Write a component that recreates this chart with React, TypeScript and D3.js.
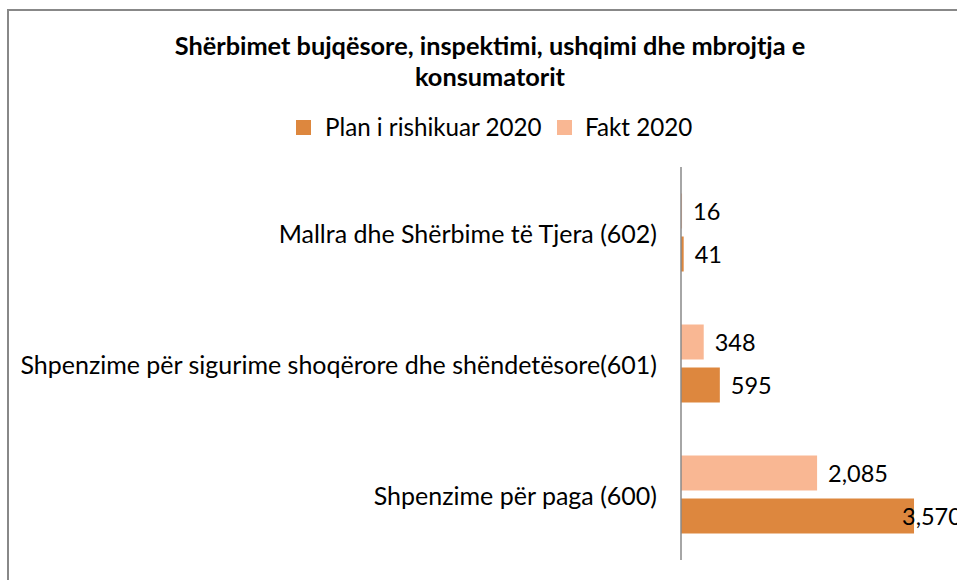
import React from "react";
import * as d3 from "d3";

const categories = [
  "Mallra dhe Shërbime të Tjera (602)",
  "Shpenzime për sigurime shoqërore dhe shëndetësore(601)",
  "Shpenzime për paga (600)",
];
const seriesNames = ["Fakt 2020", "Plan i rishikuar 2020"];
const faktValues = [16, 348, 2085];
const planValues = [41, 595, 3570];
const legendOrder = ["Plan i rishikuar 2020", "Fakt 2020"];
const colors: Record<string, string> = {
  "Plan i rishikuar 2020": "#DD873E",
  "Fakt 2020": "#F9B793",
};
const titleLines = [
  "Shërbimet bujqësore, inspektimi, ushqimi dhe mbrojtja e",
  "konsumatorit",
];

const W = 957;
const H = 580;
const FONT = "Lato, 'Open Sans', sans-serif";

export default function App() {
  const x = d3.scaleLinear().domain([0, 4000]).range([681, 681 + 4000 * 0.06527]);
  const y = d3.scaleBand<string>().domain(categories).range([167, 560]).padding(0);
  const inner = d3
    .scaleBand<string>()
    .domain(seriesNames)
    .range([0, 78])
    .paddingInner(0.186);
  const fmt = d3.format(",");
  const valuesBySeries: Record<string, number[]> = {
    "Fakt 2020": faktValues,
    "Plan i rishikuar 2020": planValues,
  };

  const legendItems = [
    { name: legendOrder[0], sx: 296, tx: 325 },
    { name: legendOrder[1], sx: 557, tx: 585 },
  ];

  return (
    <svg
      width={W}
      height={H}
      style={{ position: "absolute", left: 0, top: 0, background: "#fff" }}
      fontFamily={FONT}
    >
      <rect x={8} y={10} width={W + 20} height={H + 20} fill="#fff" stroke="#888" strokeWidth={2} />
      {titleLines.map((t, i) => (
        <text
          key={i}
          x={490}
          y={55 + i * 31}
          textAnchor="middle"
          fontWeight="bold"
          fontSize={25.3}
          fill="#000"
        >
          {t}
        </text>
      ))}
      {legendItems.map((l) => (
        <g key={l.name}>
          <rect x={l.sx} y={120} width={15} height={15} fill={colors[l.name]} />
          <text x={l.tx} y={136} fontSize={24.2} fill="#000">
            {l.name}
          </text>
        </g>
      ))}
      {categories.map((c, ci) => {
        const band = y(c)!;
        const top = band + (y.bandwidth() - 78) / 2;
        return (
          <g key={c}>
            <text
              x={657}
              y={band + y.bandwidth() / 2 + 10}
              textAnchor="end"
              fontSize={25}
              fill="#000"
            >
              {c}
            </text>
            {seriesNames.map((s) => {
              const v = valuesBySeries[s][ci];
              const by = top + inner(s)!;
              const xe = x(v);
              const label = fmt(v);
              const lx = Math.min(xe + 11, W - 55);
              return (
                <g key={s}>
                  <rect
                    x={x(0)}
                    y={by}
                    width={xe - x(0)}
                    height={inner.bandwidth()}
                    fill={colors[s]}
                  />
                  <text
                    x={lx}
                    y={by + inner.bandwidth() / 2 + 9}
                    fontSize={23.5}
                    fill="#000"
                  >
                    {label}
                  </text>
                </g>
              );
            })}
          </g>
        );
      })}
      <line x1={x(0)} x2={x(0)} y1={167} y2={560} stroke="#888" strokeWidth={1.5} />
    </svg>
  );
}
